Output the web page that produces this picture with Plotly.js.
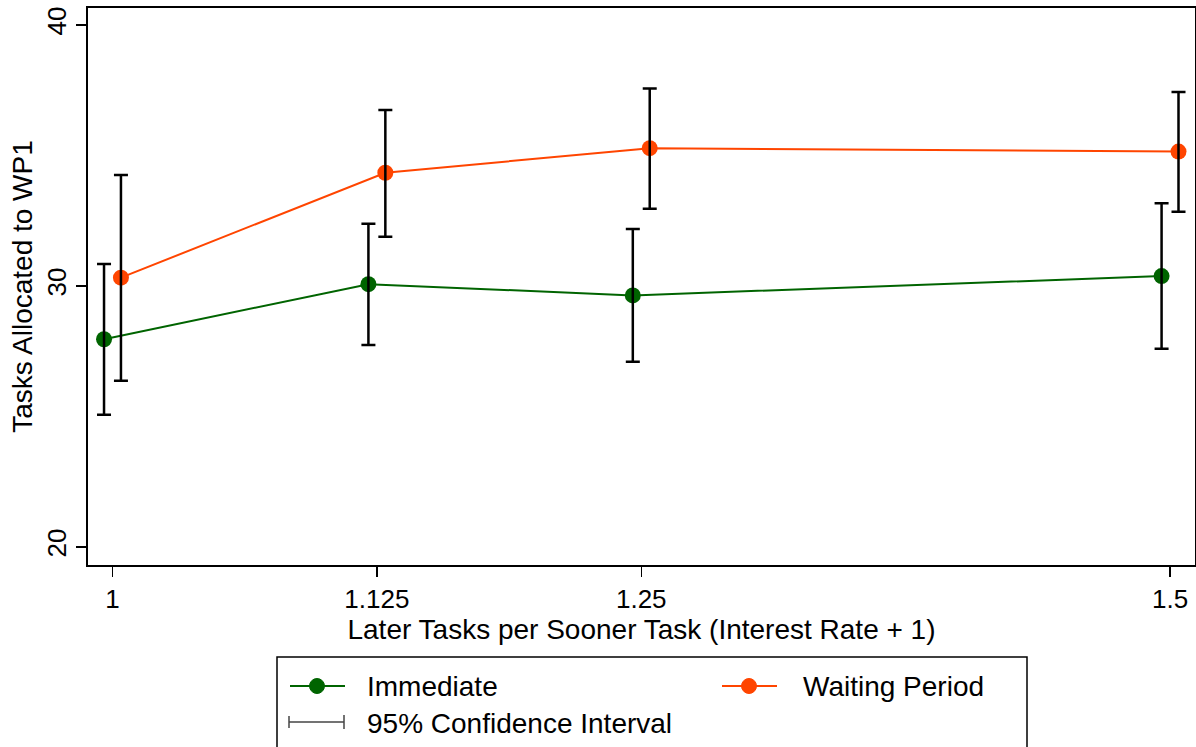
<!DOCTYPE html>
<html>
<head>
<meta charset="utf-8">
<script src="https://cdn.plot.ly/plotly-3.0.1.min.js"></script>
<style>html,body{margin:0;padding:0;background:#fff;}#chart{width:1196px;height:747px;}</style>
</head>
<body>
<div id="chart"></div>
<script>
// ---- data ----
const rates = [1, 1.125, 1.25, 1.5];
const rateLabels = ['1', '1.125', '1.25', '1.5'];
const immMean = [27.96, 30.07, 29.64, 30.38];
const immLo   = [25.07, 27.74, 27.10, 27.60];
const immHi   = [30.84, 32.38, 32.18, 33.17];
const waitMean = [30.32, 34.34, 35.28, 35.15];
const waitLo   = [26.37, 31.89, 32.96, 32.84];
const waitHi   = [34.25, 36.74, 37.57, 37.43];
const yTicks = [20, 30, 40];
const seriesNames = ['Immediate', 'Waiting Period'];
const ciLabel = '95% Confidence Interval';

// ---- styling ----
const GREEN = '#006400';
const ORANGE = '#FF4500';
const FONT = '"Liberation Sans", Arial, Helvetica, sans-serif';
const dodge = 0.004;
const W = 1196, H = 747;
const L = 88, R = 1195, T = 8, B = 565;

const xImm = rates.map(v => v - dodge);
const xWait = rates.map(v => v + dodge);
const up = (hi, m) => hi.map((h, i) => h - m[i]);
const dn = (lo, m) => lo.map((l, i) => m[i] - l);

const traces = [
  {x: xImm, y: immMean, mode: 'lines+markers', name: seriesNames[0], showlegend: false,
   line: {color: GREEN, width: 2}, marker: {color: GREEN, size: 16}},
  {x: xWait, y: waitMean, mode: 'lines+markers', name: seriesNames[1], showlegend: false,
   line: {color: ORANGE, width: 2}, marker: {color: ORANGE, size: 16}},
  {x: xImm, y: immMean, mode: 'markers', showlegend: false, hoverinfo: 'skip',
   marker: {size: 1, opacity: 0},
   error_y: {type: 'data', symmetric: false, array: up(immHi, immMean), arrayminus: dn(immLo, immMean),
             color: '#000', thickness: 2.5, width: 7}},
  {x: xWait, y: waitMean, mode: 'markers', showlegend: false, hoverinfo: 'skip',
   marker: {size: 1, opacity: 0},
   error_y: {type: 'data', symmetric: false, array: up(waitHi, waitMean), arrayminus: dn(waitLo, waitMean),
             color: '#000', thickness: 2.5, width: 7}}
];

// pixel -> paper helpers for the hand-drawn legend box
const px = x => (x - L) / (R - L);
const py = y => (B - y) / (B - T);

const shapes = [
  {type: 'rect', xref: 'paper', yref: 'paper', x0: px(277), x1: px(1027), y0: py(770), y1: py(657),
   line: {color: '#000', width: 1.5}, fillcolor: 'rgba(0,0,0,0)'},
  {type: 'line', xref: 'paper', yref: 'paper', x0: px(290), x1: px(345), y0: py(686), y1: py(686), line: {color: GREEN, width: 2}},
  {type: 'circle', xref: 'paper', yref: 'paper', x0: px(309.5), x1: px(324.5), y0: py(693.5), y1: py(678.5), line: {color: GREEN, width: 1}, fillcolor: GREEN},
  {type: 'line', xref: 'paper', yref: 'paper', x0: px(722), x1: px(777), y0: py(686), y1: py(686), line: {color: ORANGE, width: 2}},
  {type: 'circle', xref: 'paper', yref: 'paper', x0: px(741.5), x1: px(756.5), y0: py(693.5), y1: py(678.5), line: {color: ORANGE, width: 1}, fillcolor: ORANGE},
  {type: 'line', xref: 'paper', yref: 'paper', x0: px(289), x1: px(344), y0: py(722), y1: py(722), line: {color: '#444', width: 1.5}},
  {type: 'line', xref: 'paper', yref: 'paper', x0: px(289), x1: px(289), y0: py(728), y1: py(716), line: {color: '#444', width: 1.5}},
  {type: 'line', xref: 'paper', yref: 'paper', x0: px(344), x1: px(344), y0: py(729), y1: py(715), line: {color: '#444', width: 1.5}}
];

const annotations = [
  {text: seriesNames[0], x: px(365), y: py(687), xref: 'paper', yref: 'paper', xanchor: 'left', yanchor: 'middle', showarrow: false, font: {size: 28, color: '#000', family: FONT}},
  {text: seriesNames[1], x: px(801), y: py(687), xref: 'paper', yref: 'paper', xanchor: 'left', yanchor: 'middle', showarrow: false, font: {size: 28, color: '#000', family: FONT}},
  {text: ciLabel, x: px(365), y: py(723), xref: 'paper', yref: 'paper', xanchor: 'left', yanchor: 'middle', showarrow: false, font: {size: 28, color: '#000', family: FONT}}
];

const layout = {
  width: W, height: H,
  margin: {l: L, r: W - R, t: T, b: H - B, pad: 0},
  paper_bgcolor: '#fff', plot_bgcolor: '#fff',
  font: {family: FONT, size: 26, color: '#000'},
  showlegend: false,
  xaxis: {
    range: [0.98842, 1.5118], tickmode: 'array', tickvals: rates, ticktext: rateLabels,
    showgrid: false, zeroline: false, showline: true, mirror: true, linecolor: '#000', linewidth: 2,
    ticks: 'outside', ticklen: 10, tickwidth: 1.5, tickcolor: '#000',
    tickfont: {size: 26, family: FONT}, automargin: false,
    title: {text: 'Later Tasks per Sooner Task (Interest Rate + 1)', font: {size: 28, family: FONT}, standoff: 2}
  },
  yaxis: {
    range: [19.31, 40.651], tickmode: 'array', tickvals: yTicks, ticktext: yTicks.map(String),
    showgrid: false, zeroline: false, showline: true, mirror: true, linecolor: '#000', linewidth: 2,
    ticks: 'outside', ticklen: 10, tickwidth: 1.5, tickcolor: '#000', tickangle: -90,
    tickfont: {size: 26, family: FONT}, automargin: false,
    title: {text: 'Tasks Allocated to WP1', font: {size: 28, family: FONT}, standoff: 1}
  },
  shapes: shapes,
  annotations: annotations
};

Plotly.newPlot('chart', traces, layout, {displayModeBar: false, staticPlot: true});
</script>
</body>
</html>
